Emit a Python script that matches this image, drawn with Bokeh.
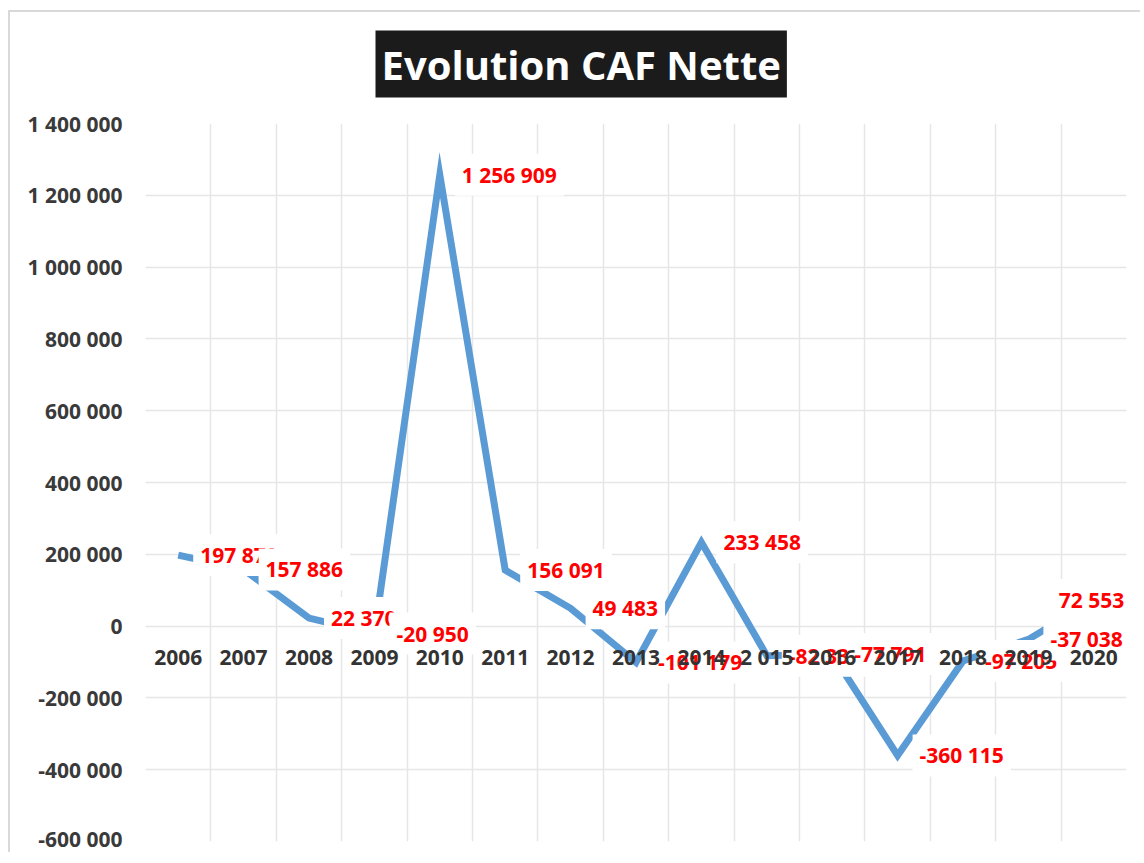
from bokeh.plotting import figure
from bokeh.models import FactorRange, Range1d, FixedTicker, Grid, ColumnDataSource
from bokeh.core.properties import value
from bokeh.embed import file_html
from bokeh.resources import INLINE

years = ["2006", "2007", "2008", "2009", "2010", "2011", "2012", "2013",
         "2014", "2 015", "2016", "2017", "2018", "2019", "2020"]
caf = [197870, 157886, 22370, -20950, 1256909, 156091, 49483, -101179,
       233458, -82332, -77791, -360115, -97205, -37038, 72553]
y_ticks = [-600000, -400000, -200000, 0, 200000, 400000, 600000,
           800000, 1000000, 1200000, 1400000]
y_tick_labels = ["-600 000", "-400 000", "-200 000", "0", "200 000", "400 000",
                 "600 000", "800 000", "1 000 000", "1 200 000", "1 400 000"]
title_text = "Evolution CAF Nette"

caf_labels = [f"{v:,}".replace(",", " ") for v in caf]
# data labels sit right of their point; the last one is pulled left to stay in the plot area
label_dx = [15] * (len(caf) - 1) + [-42]

FONT = "Open Sans"

p = figure(x_range=FactorRange(*years, range_padding=0),
           y_range=Range1d(-600000, 1400000),
           width=1140, height=852,
           output_backend="svg", toolbar_location=None,
           x_axis_location=None,
           min_border_left=145, min_border_right=14,
           min_border_top=123, min_border_bottom=11)
# chart-area frame lines (top and left) painted behind a transparent border area
p.styles = {
    "background-color": "white",
    "background-image": "linear-gradient(#d9d9d9, #d9d9d9), linear-gradient(#d9d9d9, #d9d9d9)",
    "background-size": "100% 2px, 2px 100%",
    "background-position": "8px 10px, 8px 10px",
    "background-repeat": "no-repeat",
}
p.border_fill_color = None
p.outline_line_color = None
p.background_fill_color = "white"

p.title.text = title_text
p.title.align = "left"
p.title.offset = 230
p.title.text_font = FONT
p.title.text_font_style = "bold"
p.title.text_font_size = "40px"
p.title.text_color = "white"
p.title.background_fill_color = "#1b1b1b"
p.title.padding = 6
p.title.standoff = 52

# y axis
p.yaxis.ticker = FixedTicker(ticks=y_ticks)
p.yaxis.major_label_overrides = dict(zip(y_ticks, y_tick_labels))
p.yaxis.axis_line_color = None
p.yaxis.major_tick_line_color = None
p.yaxis.minor_tick_line_color = None
p.yaxis.major_label_standoff = 17
p.yaxis.major_label_text_font = FONT
p.yaxis.major_label_text_font_style = "bold"
p.yaxis.major_label_text_font_size = "21px"
p.yaxis.major_label_text_color = "#3a3a3a"

p.ygrid.ticker = FixedTicker(ticks=y_ticks)
p.ygrid.grid_line_color = "#e6e6e6"
p.ygrid.grid_line_width = 1.5
p.xgrid.visible = False
vgrid = Grid(dimension=0, ticker=FixedTicker(ticks=list(range(len(years) + 1))),
             grid_line_color="#e6e6e6", grid_line_width=1.5)
p.add_layout(vgrid, "center")

src = ColumnDataSource(dict(year=years, caf=caf, lab=caf_labels, dx=label_dx,
                            zero=[0] * len(years)))

p.line("year", "caf", source=src, line_color="#5B9BD5", line_width=7,
       line_join="miter")

p.text(x="year", y="caf", text="lab", x_offset="dx", source=src,
       text_font=value(FONT), text_font_style="bold", text_font_size="21px",
       text_color="#FF0000", text_align="left", text_baseline="middle",
       background_fill_color="white", padding=7)

p.text(x="year", y="zero", text="year", y_offset=31, source=src,
       text_font=value(FONT), text_font_style="bold", text_font_size="21px",
       text_color="#333333", text_align="center", text_baseline="middle")

open("out.html", "w").write(file_html(p, INLINE))
